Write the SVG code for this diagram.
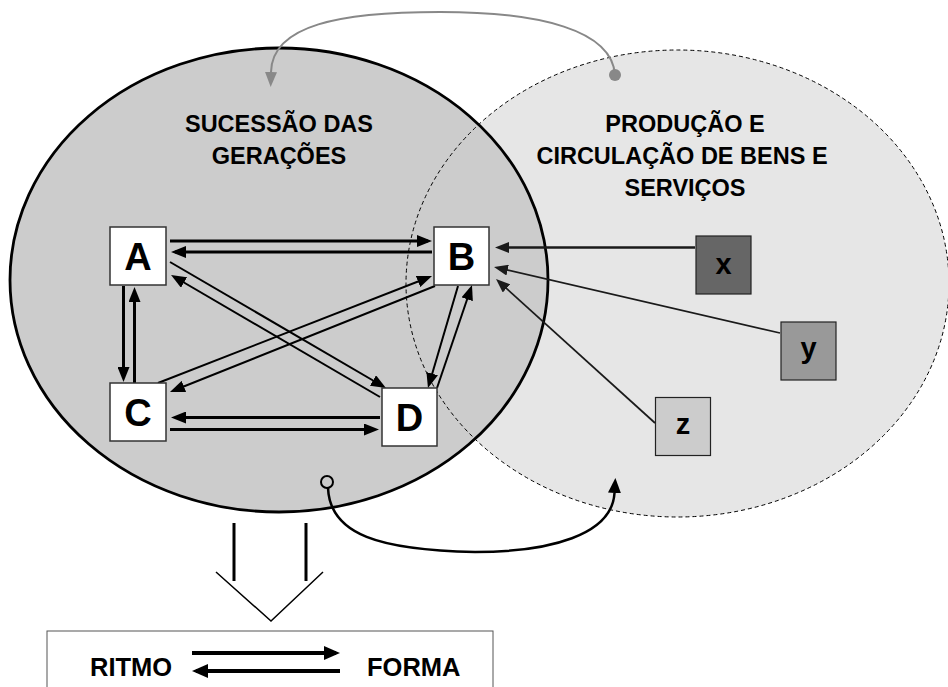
<svg xmlns="http://www.w3.org/2000/svg" width="948" height="687" viewBox="0 0 948 687">
<style>
text{font-family:"Liberation Sans",Arial,Helvetica,sans-serif;font-weight:bold;fill:#000}
.title{font-size:23.5px;text-anchor:middle}
.lbl{font-size:38px;text-anchor:middle}
.sm{font-size:29px;text-anchor:middle}
.bt{font-size:25.5px}
.node{fill:#fff;stroke:#333;stroke-width:1.5}
.thick{stroke:#000;stroke-width:3;fill:none;marker-end:url(#ah)}
.thin{stroke:#000;stroke-width:2;fill:none;marker-end:url(#ah)}
.ext{stroke:#1a1a1a;fill:none;marker-end:url(#ah2)}
</style>
<defs>
<marker id="ah" markerUnits="userSpaceOnUse" markerWidth="15" markerHeight="12" refX="11" refY="6" orient="auto">
<path d="M0,0 L15,6 L0,12 z" fill="#000"/>
</marker>
<marker id="ah2" markerUnits="userSpaceOnUse" markerWidth="14" markerHeight="11" refX="10" refY="5.5" orient="auto">
<path d="M0,0 L14,5.5 L0,11 z" fill="#1a1a1a"/>
</marker>
<marker id="ahb" markerUnits="userSpaceOnUse" markerWidth="16" markerHeight="14" refX="12" refY="7" orient="auto">
<path d="M0,0 L16,7 L0,14 z" fill="#000"/>
</marker>
<marker id="ahg" markerUnits="userSpaceOnUse" markerWidth="15" markerHeight="12" refX="0" refY="6" orient="auto">
<path d="M0,0 L15,6 L0,12 z" fill="#888"/>
</marker>
<marker id="ahc" markerUnits="userSpaceOnUse" markerWidth="15" markerHeight="13" refX="0" refY="6.5" orient="auto">
<path d="M0,0 L15,6.5 L0,13 z" fill="#000"/>
</marker>
</defs>

<g id="spheres">
<ellipse cx="677.5" cy="283.5" rx="271.5" ry="233.5" fill="#e6e6e6"/>
<ellipse id="sucessao" cx="279" cy="280" rx="269" ry="232" fill="#cccccc" stroke="#000" stroke-width="2.8"/>
<ellipse id="producao" cx="677.5" cy="283.5" rx="271.5" ry="233.5" fill="none" stroke="#000" stroke-width="1" stroke-dasharray="4 3"/>
</g>

<g id="titles">
<text class="title" x="279" y="132">SUCESSÃO DAS</text>
<text class="title" x="279" y="164">GERAÇÕES</text>
<text class="title" x="685" y="132">PRODUÇÃO E</text>
<text class="title" x="682" y="164">CIRCULAÇÃO DE BENS E</text>
<text class="title" x="685" y="196">SERVIÇOS</text>
</g>

<g id="connectors">
<path class="thick" d="M170 241 L428 241"/>
<path class="thick" d="M432 252 L175 252"/>
<path class="thick" d="M123.5 286 L123.5 378"/>
<path class="thick" d="M134.5 383 L134.5 291"/>
<path class="thick" d="M170 429.5 L375 429.5"/>
<path class="thick" d="M380 417.5 L175 417.5"/>
<path class="thin" d="M170 262 L382.5 386"/>
<path class="thin" d="M380 397 L174.5 277"/>
<path class="thin" d="M158 383 L428.3 277.5"/>
<path class="thin" d="M435 286 L173.7 390.5"/>
<path class="thin" d="M458 286 L429.1 384.2"/>
<path class="thin" d="M437 388 L470.7 288.8"/>
<path class="ext" stroke-width="2.7" d="M695 247.5 L499 247.5"/>
<path class="ext" stroke-width="1.7" d="M780 333 L497.9 267.9"/>
<path class="ext" stroke-width="1.7" d="M655 423 L499 281.7"/>
<path d="M615 75 C 612 30, 540 12, 440 12 C 340 12, 272 25, 271 72" fill="none" stroke="#888" stroke-width="2" marker-end="url(#ahg)"/>
<circle cx="615" cy="75" r="6" fill="#888"/>
<path d="M328 488 C 330 535, 380 550, 475 552 C 550 552, 612 535, 614.5 493" fill="none" stroke="#000" stroke-width="2.5" marker-end="url(#ahc)"/>
<circle cx="327" cy="482" r="6" fill="none" stroke="#000" stroke-width="2"/>
<path d="M234 523 L234 581 M306 523 L306 581" stroke="#000" stroke-width="3" fill="none"/>
<path d="M216 572 L271 621 L323 572" stroke="#000" stroke-width="1.5" fill="none"/>
</g>

<g id="nodeA"><rect class="node" x="110" y="227" width="56" height="58"/><text class="lbl" x="138" y="270">A</text></g>
<g id="nodeB"><rect class="node" x="434" y="227" width="55" height="58"/><text class="lbl" x="461.5" y="270">B</text></g>
<g id="nodeC"><rect class="node" x="110" y="383" width="56" height="58"/><text class="lbl" x="138" y="426">C</text></g>
<g id="nodeD"><rect class="node" x="382" y="388" width="55" height="58"/><text class="lbl" x="409.5" y="431">D</text></g>
<g id="nodeX"><rect x="696" y="236" width="55" height="58" fill="#666" stroke="#222" stroke-width="1.2"/><text class="sm" x="723.5" y="274">x</text></g>
<g id="nodeY"><rect x="781" y="322" width="55" height="58" fill="#999" stroke="#222" stroke-width="1.2"/><text class="sm" x="808.5" y="358">y</text></g>
<g id="nodeZ"><rect x="655.5" y="397.5" width="55" height="58" fill="#ccc" stroke="#222" stroke-width="1.2"/><text class="sm" x="683" y="434">z</text></g>

<g id="result">
<rect x="47" y="631" width="446" height="62" fill="#fff" stroke="#555" stroke-width="1"/>
<text class="bt" x="90" y="676">RITMO</text>
<text class="bt" x="367" y="676">FORMA</text>
<path d="M192 653 L336 653" stroke="#000" stroke-width="4" fill="none" marker-end="url(#ahb)"/>
<path d="M340 671 L196 671" stroke="#000" stroke-width="4" fill="none" marker-end="url(#ahb)"/>
</g>
</svg>
